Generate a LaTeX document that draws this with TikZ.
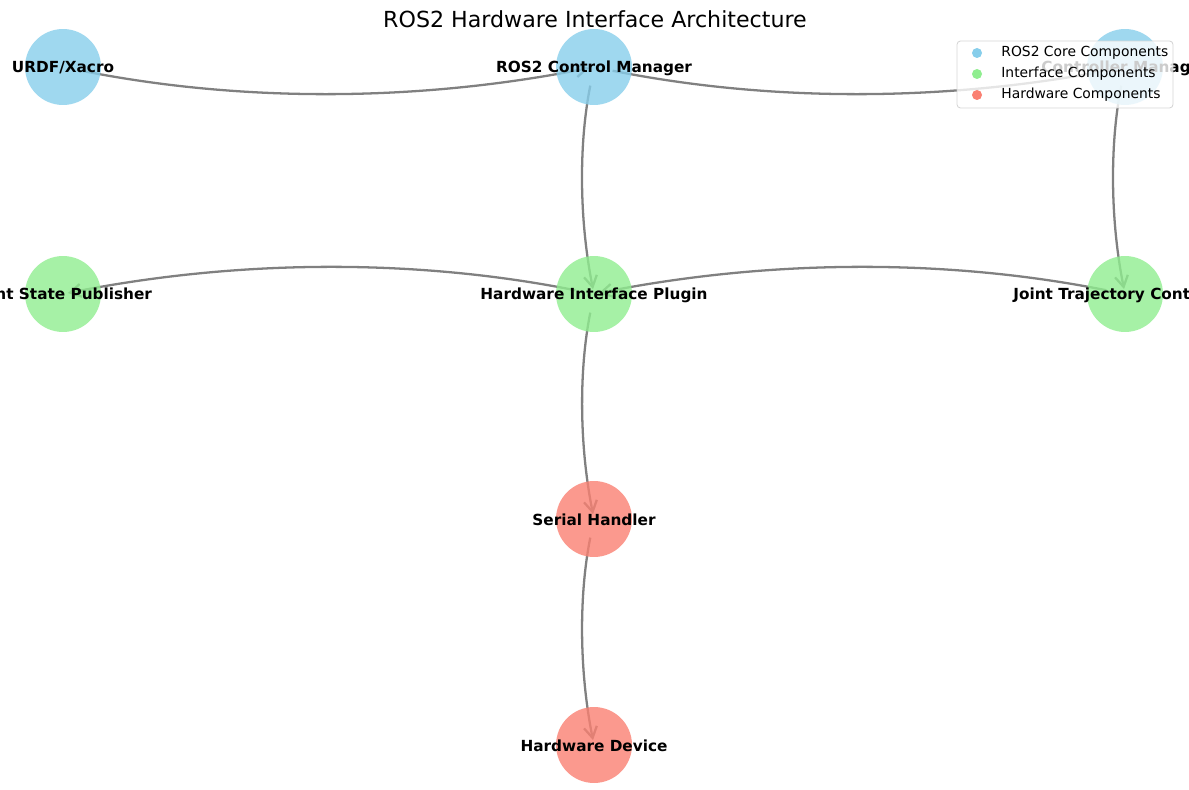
\documentclass[tikz,border=0pt]{standalone}
\usepackage{fontspec}
\setmainfont{DejaVu Sans}
\usetikzlibrary{arrows.meta}
\definecolor{CoreBlue}{HTML}{87CEEB}
\definecolor{IfaceGreen}{HTML}{90EE90}
\definecolor{HwSalmon}{HTML}{FA8072}
\definecolor{EdgeGray}{HTML}{808080}
\definecolor{LegendEdge}{HTML}{CCCCCC}
\pgfdeclarelayer{edges}
\pgfsetlayers{edges,main}
\tikzset{
  comp/.style={circle,minimum size=1.52cm,inner sep=0pt,draw=none,fill opacity=0.8},
  core comp/.style={comp,fill=CoreBlue},
  iface comp/.style={comp,fill=IfaceGreen},
  hw comp/.style={comp,fill=HwSalmon},
  comp label/.style={text=black,inner sep=0pt,font=\bfseries\fontsize{8.7}{10}\selectfont},
  flow/.style={draw=EdgeGray,line width=1.3pt,-{Straight Barb[length=0.22cm,width=0.26cm]},shorten <=0.38cm,shorten >=0.1cm},
  arc3/.style={bend right=11.3,looseness=0.87},
  legend box/.style={draw=LegendEdge,fill=white,fill opacity=0.8,draw opacity=0.8,line width=0.5pt,rounded corners=2pt},
  legend text/.style={anchor=west,inner sep=0pt,text=black,font=\fontsize{7.9}{9}\selectfont}
}
\begin{document}
\begin{tikzpicture}[x=0.02cm,y=-0.02cm]
  \useasboundingbox (0,0) rectangle (1189,790);
  \node[font=\fontsize{12.6}{14}\selectfont] (title) at (595,19) {ROS2 Hardware Interface Architecture};

  % components
  \node[core comp] (urdf) at (63,67) {};
  \node[core comp] (rcm) at (594,67) {};
  \node[core comp] (ctrlmgr) at (1125,67) {};
  \node[iface comp] (jsp) at (63,294) {};
  \node[iface comp] (hip) at (594,294) {};
  \node[iface comp] (jtc) at (1125,294) {};
  \node[hw comp] (serial) at (594,519) {};
  \node[hw comp] (device) at (594,745) {};

  \node[comp label] (urdf-t) at (63,68) {URDF/Xacro};
  \node[comp label] (rcm-t) at (594,68) {ROS2 Control Manager};
  \node[comp label] (ctrlmgr-t) at (1125,68) {Controller Manager};
  \node[comp label] (jsp-t) at (63,295) {Joint State Publisher};
  \node[comp label] (hip-t) at (594,295) {Hardware Interface Plugin};
  \node[comp label] (jtc-t) at (1125,295) {Joint Trajectory Controller};
  \node[comp label] (serial-t) at (594,520) {Serial Handler};
  \node[comp label] (device-t) at (594,746) {Hardware Device};

  % connections
  \begin{pgfonlayer}{edges}
    \foreach \src/\dst in {urdf/rcm,rcm/ctrlmgr,rcm/hip,ctrlmgr/jtc,hip/jsp,jtc/hip,hip/serial,serial/device}
      \draw[flow] (\src.center) to[arc3] (\dst.center);
  \end{pgfonlayer}

  % legend
  \draw[legend box] (957,41) rectangle (1173,108);
  \foreach \y/\col/\txt in {53/CoreBlue/ROS2 Core Components,74/IfaceGreen/Interface Components,95/HwSalmon/Hardware Components} {
    \fill[\col] (977,\y) circle[radius=5];
    \node[legend text] at (1001,\y) {\txt};
  }
\end{tikzpicture}
\end{document}
